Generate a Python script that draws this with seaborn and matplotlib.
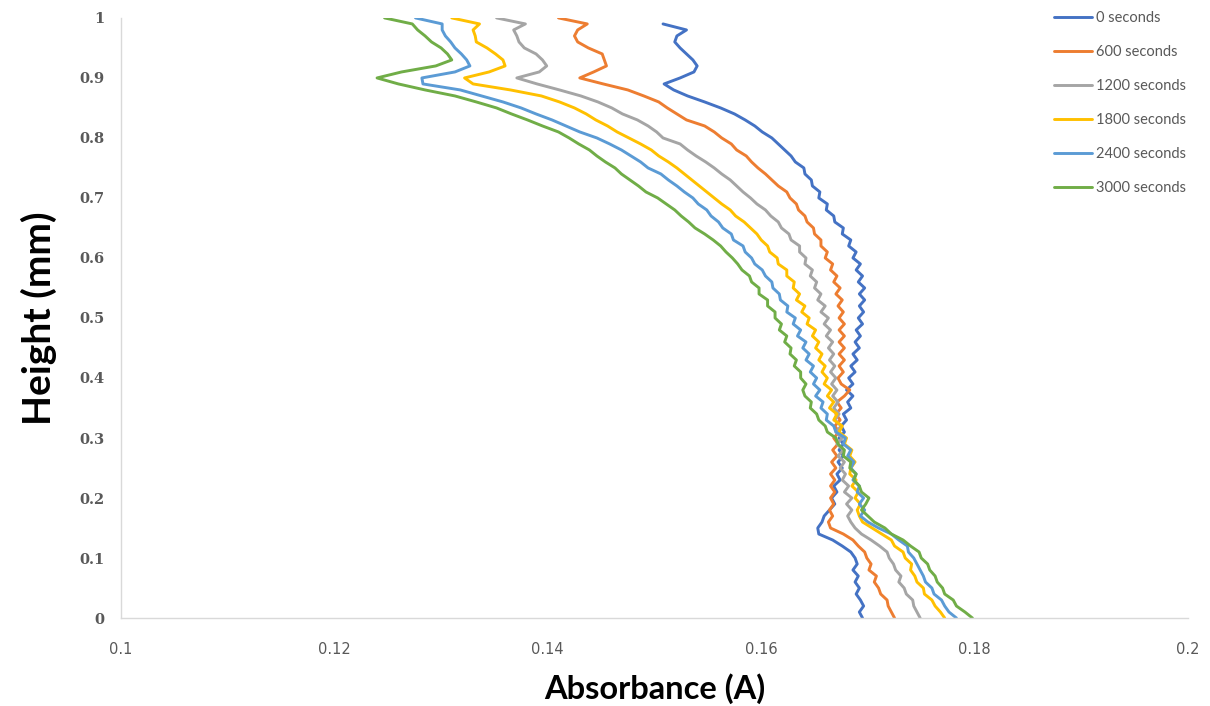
import numpy as np
import pandas as pd
import matplotlib
matplotlib.use("Agg")
import matplotlib.pyplot as plt
import seaborn as sns

# Measurement heights (mm), sampled every 0.01 mm
HEIGHT = [
    0.00, 0.01, 0.02, 0.03, 0.04, 0.05, 0.06, 0.07, 0.08, 0.09,
    0.10, 0.11, 0.12, 0.13, 0.14, 0.15, 0.16, 0.17, 0.18, 0.19,
    0.20, 0.21, 0.22, 0.23, 0.24, 0.25, 0.26, 0.27, 0.28, 0.29,
    0.30, 0.31, 0.32, 0.33, 0.34, 0.35, 0.36, 0.37, 0.38, 0.39,
    0.40, 0.41, 0.42, 0.43, 0.44, 0.45, 0.46, 0.47, 0.48, 0.49,
    0.50, 0.51, 0.52, 0.53, 0.54, 0.55, 0.56, 0.57, 0.58, 0.59,
    0.60, 0.61, 0.62, 0.63, 0.64, 0.65, 0.66, 0.67, 0.68, 0.69,
    0.70, 0.71, 0.72, 0.73, 0.74, 0.75, 0.76, 0.77, 0.78, 0.79,
    0.80, 0.81, 0.82, 0.83, 0.84, 0.85, 0.86, 0.87, 0.88, 0.89,
    0.90, 0.91, 0.92, 0.93, 0.94, 0.95, 0.96, 0.97, 0.98, 0.99,
    1.00,
]

# Absorbance profiles, one value per height above
ABS_0 = [
    0.1695, 0.1692, 0.1696, 0.1693, 0.1689, 0.1692, 0.1688, 0.1691, 0.1686, 0.1690,
    0.1688, 0.1684, 0.1676, 0.1667, 0.1654, 0.1653, 0.1657, 0.1659, 0.1664, 0.1669,
    0.1666, 0.1671, 0.1668, 0.1674, 0.1671, 0.1676, 0.1672, 0.1677, 0.1673, 0.1677,
    0.1673, 0.1678, 0.1675, 0.1680, 0.1677, 0.1684, 0.1681, 0.1686, 0.1680, 0.1686,
    0.1682, 0.1688, 0.1684, 0.1690, 0.1686, 0.1692, 0.1688, 0.1693, 0.1689, 0.1695,
    0.1691, 0.1696, 0.1692, 0.1697, 0.1692, 0.1697, 0.1691, 0.1695, 0.1689, 0.1693,
    0.1686, 0.1689, 0.1682, 0.1684, 0.1676, 0.1677, 0.1669, 0.1668, 0.1661, 0.1662,
    0.1654, 0.1655, 0.1648, 0.1647, 0.1641, 0.1640, 0.1632, 0.1628, 0.1622, 0.1616,
    0.1610, 0.1601, 0.1594, 0.1585, 0.1575, 0.1562, 0.1547, 0.1531, 0.1518, 0.1509,
    0.1524, 0.1537, 0.1540, 0.1536, 0.1530, 0.1524, 0.1519, 0.1521, 0.1530, 0.1508,
    np.nan,
]
ABS_600 = [
    0.1725, 0.1722, 0.1719, 0.1718, 0.1712, 0.1710, 0.1706, 0.1708, 0.1701, 0.1703,
    0.1699, 0.1697, 0.1691, 0.1686, 0.1677, 0.1665, 0.1663, 0.1667, 0.1664, 0.1668,
    0.1665, 0.1669, 0.1665, 0.1669, 0.1665, 0.1670, 0.1666, 0.1671, 0.1667, 0.1672,
    0.1668, 0.1673, 0.1669, 0.1674, 0.1670, 0.1675, 0.1671, 0.1678, 0.1683, 0.1675,
    0.1672, 0.1677, 0.1673, 0.1678, 0.1673, 0.1678, 0.1673, 0.1678, 0.1673, 0.1678,
    0.1673, 0.1677, 0.1672, 0.1676, 0.1670, 0.1674, 0.1668, 0.1671, 0.1665, 0.1667,
    0.1660, 0.1662, 0.1656, 0.1656, 0.1650, 0.1649, 0.1643, 0.1641, 0.1635, 0.1633,
    0.1627, 0.1624, 0.1616, 0.1610, 0.1604, 0.1597, 0.1591, 0.1586, 0.1577, 0.1572,
    0.1563, 0.1556, 0.1547, 0.1530, 0.1521, 0.1512, 0.1504, 0.1490, 0.1475, 0.1452,
    0.1430, 0.1443, 0.1455, 0.1453, 0.1451, 0.1438, 0.1428, 0.1425, 0.1428, 0.1437,
    0.1410,
]
ABS_1200 = [
    0.1749, 0.1746, 0.1743, 0.1742, 0.1736, 0.1734, 0.1729, 0.1731, 0.1726, 0.1724,
    0.1720, 0.1718, 0.1711, 0.1703, 0.1694, 0.1688, 0.1684, 0.1681, 0.1685, 0.1680,
    0.1685, 0.1678, 0.1682, 0.1676, 0.1679, 0.1674, 0.1678, 0.1672, 0.1677, 0.1671,
    0.1676, 0.1670, 0.1675, 0.1669, 0.1673, 0.1668, 0.1672, 0.1667, 0.1671, 0.1666,
    0.1670, 0.1665, 0.1669, 0.1664, 0.1668, 0.1663, 0.1667, 0.1661, 0.1665, 0.1659,
    0.1663, 0.1656, 0.1660, 0.1653, 0.1656, 0.1650, 0.1652, 0.1646, 0.1648, 0.1641,
    0.1642, 0.1636, 0.1636, 0.1628, 0.1626, 0.1619, 0.1616, 0.1609, 0.1604, 0.1596,
    0.1590, 0.1583, 0.1577, 0.1571, 0.1563, 0.1556, 0.1548, 0.1539, 0.1531, 0.1524,
    0.1508, 0.1502, 0.1494, 0.1484, 0.1470, 0.1460, 0.1447, 0.1431, 0.1411, 0.1390,
    0.1371, 0.1392, 0.1399, 0.1395, 0.1389, 0.1378, 0.1373, 0.1371, 0.1368, 0.1379,
    0.1352,
]
ABS_1800 = [
    0.1772, 0.1768, 0.1763, 0.1760, 0.1753, 0.1752, 0.1746, 0.1744, 0.1740, 0.1741,
    0.1735, 0.1733, 0.1725, 0.1722, 0.1713, 0.1704, 0.1695, 0.1692, 0.1690, 0.1693,
    0.1688, 0.1691, 0.1685, 0.1689, 0.1683, 0.1684, 0.1688, 0.1683, 0.1685, 0.1678,
    0.1680, 0.1673, 0.1676, 0.1668, 0.1671, 0.1664, 0.1668, 0.1662, 0.1666, 0.1659,
    0.1662, 0.1657, 0.1660, 0.1654, 0.1657, 0.1651, 0.1654, 0.1648, 0.1651, 0.1643,
    0.1645, 0.1638, 0.1641, 0.1633, 0.1636, 0.1630, 0.1631, 0.1624, 0.1624, 0.1616,
    0.1615, 0.1608, 0.1606, 0.1600, 0.1596, 0.1590, 0.1584, 0.1576, 0.1571, 0.1563,
    0.1556, 0.1549, 0.1542, 0.1535, 0.1528, 0.1521, 0.1513, 0.1504, 0.1497, 0.1487,
    0.1476, 0.1465, 0.1456, 0.1445, 0.1436, 0.1425, 0.1411, 0.1394, 0.1365, 0.1330,
    0.1322, 0.1345, 0.1360, 0.1358, 0.1351, 0.1343, 0.1333, 0.1332, 0.1330, 0.1336,
    0.1310,
]
ABS_2400 = [
    0.1783, 0.1776, 0.1772, 0.1769, 0.1762, 0.1760, 0.1754, 0.1752, 0.1749, 0.1746,
    0.1743, 0.1738, 0.1737, 0.1729, 0.1722, 0.1710, 0.1700, 0.1693, 0.1697, 0.1692,
    0.1696, 0.1690, 0.1692, 0.1686, 0.1689, 0.1684, 0.1687, 0.1681, 0.1684, 0.1677,
    0.1679, 0.1670, 0.1668, 0.1661, 0.1662, 0.1656, 0.1658, 0.1651, 0.1655, 0.1649,
    0.1652, 0.1646, 0.1649, 0.1642, 0.1645, 0.1639, 0.1642, 0.1634, 0.1637, 0.1630,
    0.1632, 0.1624, 0.1625, 0.1618, 0.1617, 0.1611, 0.1610, 0.1604, 0.1601, 0.1594,
    0.1591, 0.1585, 0.1583, 0.1574, 0.1572, 0.1564, 0.1560, 0.1553, 0.1549, 0.1541,
    0.1536, 0.1528, 0.1521, 0.1513, 0.1506, 0.1494, 0.1487, 0.1478, 0.1469, 0.1458,
    0.1446, 0.1430, 0.1417, 0.1404, 0.1389, 0.1375, 0.1358, 0.1338, 0.1318, 0.1283,
    0.1282, 0.1313, 0.1327, 0.1324, 0.1319, 0.1313, 0.1309, 0.1304, 0.1301, 0.1301,
    0.1276,
]
ABS_3000 = [
    0.1798, 0.1791, 0.1783, 0.1780, 0.1772, 0.1770, 0.1765, 0.1763, 0.1758, 0.1756,
    0.1750, 0.1748, 0.1740, 0.1733, 0.1722, 0.1716, 0.1706, 0.1700, 0.1694, 0.1698,
    0.1701, 0.1694, 0.1692, 0.1687, 0.1689, 0.1683, 0.1684, 0.1677, 0.1678, 0.1672,
    0.1670, 0.1662, 0.1660, 0.1654, 0.1652, 0.1646, 0.1647, 0.1641, 0.1639, 0.1642,
    0.1637, 0.1637, 0.1631, 0.1633, 0.1627, 0.1628, 0.1622, 0.1624, 0.1617, 0.1619,
    0.1613, 0.1613, 0.1606, 0.1606, 0.1598, 0.1598, 0.1591, 0.1589, 0.1582, 0.1578,
    0.1573, 0.1567, 0.1562, 0.1555, 0.1547, 0.1538, 0.1532, 0.1525, 0.1519, 0.1511,
    0.1503, 0.1492, 0.1485, 0.1477, 0.1469, 0.1463, 0.1454, 0.1446, 0.1439, 0.1429,
    0.1420, 0.1410, 0.1395, 0.1381, 0.1366, 0.1352, 0.1333, 0.1313, 0.1285, 0.1260,
    0.1240, 0.1263, 0.1295, 0.1310, 0.1306, 0.1300, 0.1291, 0.1285, 0.1278, 0.1273,
    0.1247,
]

SERIES = ["0 seconds", "600 seconds", "1200 seconds",
          "1800 seconds", "2400 seconds", "3000 seconds"]
COLORS = ["#4472C4", "#ED7D31", "#A5A5A5", "#FFC000", "#5B9BD5", "#70AD47"]
X_TICKS = [0.1, 0.12, 0.14, 0.16, 0.18, 0.2]
X_TICK_LABELS = ["0.1", "0.12", "0.14", "0.16", "0.18", "0.2"]
Y_TICKS = [0.0, 0.1, 0.2, 0.3, 0.4, 0.5, 0.6, 0.7, 0.8, 0.9, 1.0]
Y_TICK_LABELS = ["0", "0.1", "0.2", "0.3", "0.4", "0.5",
                 "0.6", "0.7", "0.8", "0.9", "1"]

profiles = [ABS_0, ABS_600, ABS_1200, ABS_1800, ABS_2400, ABS_3000]
frames = []
for name, values in zip(SERIES, profiles):
    frames.append(pd.DataFrame({"Absorbance": values,
                                "Height": HEIGHT,
                                "Time": name}))
df = pd.concat(frames, ignore_index=True).dropna()

sns.set_theme(style="white")
plt.rcParams["font.family"] = ["Lato", "DejaVu Sans"]

fig = plt.figure(figsize=(12.1, 7.06), dpi=100)
ax = fig.add_axes([0.1, 0.1246, 0.8818, 0.85])

sns.lineplot(data=df, x="Absorbance", y="Height", hue="Time",
             hue_order=SERIES, palette=COLORS, sort=False,
             estimator=None, linewidth=2.1, ax=ax)

ax.set_xlim(0.1, 0.2)
ax.set_ylim(0, 1)
ax.set_xticks(X_TICKS)
ax.set_xticklabels(X_TICK_LABELS, fontsize=10.5, color="#595959",
                   family=["Liberation Sans Narrow", "DejaVu Sans"])
ax.set_yticks(Y_TICKS)
ax.set_yticklabels(Y_TICK_LABELS, fontsize=10.5, color="#595959",
                   fontweight="bold", family=["DejaVu Serif"])
ax.tick_params(axis="x", length=0, pad=17)
ax.tick_params(axis="y", length=0, pad=12)

for side in ["top", "right"]:
    ax.spines[side].set_visible(False)
for side in ["left", "bottom"]:
    ax.spines[side].set_color("#D9D9D9")
    ax.spines[side].set_linewidth(1.0)

ax.set_xlabel("Absorbance (A)", fontsize=23.5, fontweight="bold",
              color="black", labelpad=12)
ax.set_ylabel("Height (mm)", fontsize=28, fontweight="bold",
              color="black", labelpad=16)

leg = ax.legend(loc="upper right", bbox_to_anchor=(1.01, 1.034),
                frameon=False, fontsize=10.5, handlelength=2.6,
                handletextpad=0.25, labelspacing=1.38)
for text in leg.get_texts():
    text.set_color("#595959")

fig.savefig("out.png", dpi=100)
